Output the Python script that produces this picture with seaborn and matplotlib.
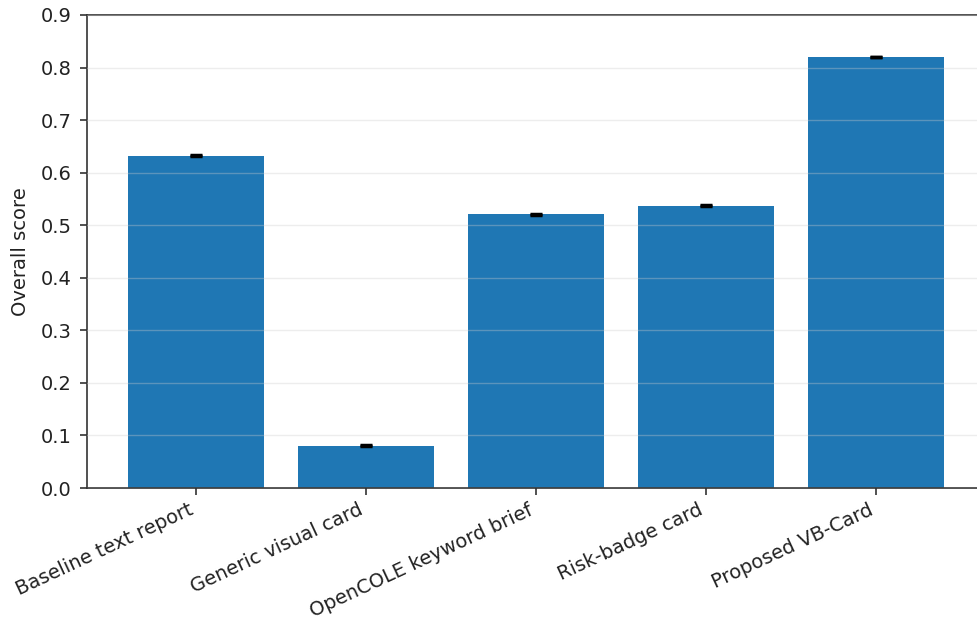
import matplotlib
matplotlib.use("Agg")
import matplotlib.pyplot as plt
import numpy as np
import pandas as pd
import seaborn as sns

# Overall score per design variant, with a small spread for the error bars
variants = [
    "Baseline text report",
    "Generic visual card",
    "OpenCOLE keyword brief",
    "Risk-badge card",
    "Proposed VB-Card",
]
scores = [0.632, 0.080, 0.521, 0.537, 0.820]
score_err = [0.001, 0.001, 0.001, 0.001, 0.0008]

plt.rcParams["font.family"] = ["DejaVu Sans"]

df = pd.DataFrame({"variant": variants, "score": scores, "err": score_err})

fig = plt.figure(figsize=(9.77, 6.19), dpi=100)
ax = fig.add_axes([87 / 977, 131 / 619, 898 / 977, 473 / 619])

sns.barplot(data=df, x="variant", y="score", color="#1f77b4", saturation=1,
            width=0.8, errorbar=None, ax=ax)
ax.errorbar(np.arange(len(variants)), df["score"], yerr=df["err"], fmt="none",
            ecolor="black", elinewidth=1.5, capsize=4.5, capthick=2.5, zorder=4)

ax.set_xlim(-0.64, len(variants) - 0.36)
ax.set_ylim(0, 0.9)
ax.set_yticks(np.arange(0, 0.91, 0.1))
ax.set_yticklabels([f"{v:.1f}" for v in np.arange(0, 0.91, 0.1)])
ax.set_xlabel("")
ax.set_ylabel("Overall score", fontsize=14, color="#222222", labelpad=8)
ax.set_axisbelow(False)
ax.yaxis.grid(True, color="#cccccc", alpha=0.35, linewidth=1)
ax.xaxis.grid(False)
for s in ax.spines.values():
    s.set_color("#333333")
    s.set_linewidth(1.2)
ax.tick_params(labelsize=14, colors="#333333", labelcolor="#222222", length=5, width=1.2)
ax.tick_params(axis="y", pad=6)
ax.tick_params(axis="x", pad=4)
plt.setp(ax.get_xticklabels(), rotation=25, ha="right")

fig.savefig("out.png", dpi=100)
